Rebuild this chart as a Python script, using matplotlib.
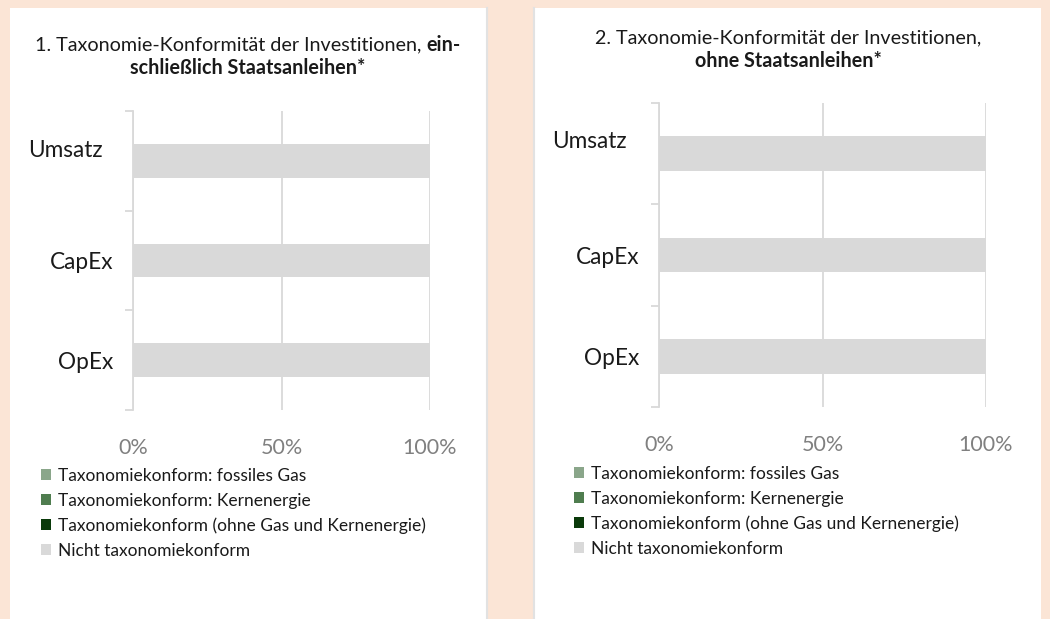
import numpy as np
import matplotlib
matplotlib.use("Agg")
from matplotlib import pyplot as plt
from matplotlib.patches import Rectangle
from matplotlib.lines import Line2D
from matplotlib.transforms import ScaledTranslation

plt.rcParams['font.family'] = ['Lato', 'DejaVu Sans']

# data
categories = ['Umsatz', 'CapEx', 'OpEx']
series_labels = ['Taxonomiekonform: fossiles Gas',
                 'Taxonomiekonform: Kernenergie',
                 'Taxonomiekonform (ohne Gas und Kernenergie)',
                 'Nicht taxonomiekonform']
series_colors = ['#8AA68A', '#4F7D4F', '#0A3A0A', '#D9D9D9']

# chart 1: including sovereign bonds
gas_1 = [0, 0, 0]
nuclear_1 = [0, 0, 0]
aligned_1 = [0, 0, 0]
not_aligned_1 = [100, 100, 100]

# chart 2: excluding sovereign bonds
gas_2 = [0, 0, 0]
nuclear_2 = [0, 0, 0]
aligned_2 = [0, 0, 0]
not_aligned_2 = [100, 100, 100]

xticks = [0, 50, 100]
xtick_labels = ['0%', '50%', '100%']

title_1 = [('1. Taxonomie-Konformität der Investitionen, ', 'normal'), ('ein-', 'bold')]
title_1b = [('schließlich Staatsanleihen*', 'bold')]
title_2 = [('2. Taxonomie-Konformität der Investitionen,', 'normal')]
title_2b = [('ohne Staatsanleihen*', 'bold')]

W, H = 1050, 619
PEACH = '#FBE5D6'
GRID = '#D9D9D9'

fig = plt.figure(figsize=(W / 100, H / 100), dpi=100, facecolor=PEACH)


def px(x, y):
    return x / W, 1 - y / H


# white panels
for x0, x1 in [(10, 486), (534, 1041)]:
    fig.patches.append(Rectangle(px(x0, 619), (x1 - x0) / W, 611 / H,
                                 transform=fig.transFigure, facecolor='white',
                                 edgecolor='none', zorder=-2))
for xl in [486.5, 534]:
    fig.lines.append(Line2D([xl / W, xl / W], [0, 1 - 8 / H], transform=fig.transFigure,
                            color='#E2E2E2', lw=1.5, zorder=-1))

renderer = fig.canvas.get_renderer()


def mixed_title(xc, y, parts, size=14.2):
    texts = []
    for s, w in parts:
        t = fig.text(0, 0, s, fontsize=size, fontweight=w, va='center', ha='left',
                     color='#1A1A1A')
        texts.append(t)
    widths = [t.get_window_extent(renderer).width for t in texts]
    x = xc - sum(widths) / 2
    for t, w in zip(texts, widths):
        t.set_position(px(x, y))
        x += w


mixed_title(248, 45, title_1)
mixed_title(248, 68, title_1b)
mixed_title(788, 38, title_2)
mixed_title(788, 61, title_2b)


def draw_panel(rect, series, umsatz_shift):
    ax = fig.add_axes(rect)
    ax.set_facecolor('none')
    y = np.arange(len(categories))
    left = np.zeros(len(categories))
    handles = []
    for vals, lab, col in zip(series, series_labels, series_colors):
        b = ax.barh(y, vals, left=left, height=0.34, color=col, label=lab, zorder=2)
        handles.append(b)
        left += np.array(vals)
    ax.set_xlim(0, 100)
    ax.set_ylim(len(categories) - 0.5, -0.5)
    for s in ['top', 'right', 'bottom']:
        ax.spines[s].set_visible(False)
    ax.spines['left'].set_color(GRID)
    ax.spines['left'].set_linewidth(1.3)
    ax.set_xticks(xticks)
    ax.set_xticklabels(xtick_labels)
    ax.tick_params(axis='x', length=0, pad=20, labelsize=15.5, labelcolor='#808080')
    ax.xaxis.grid(True, color=GRID, lw=1.3, zorder=1)
    ax.set_axisbelow(True)
    ax.set_yticks(np.arange(len(categories) + 1) - 0.5)
    ax.set_yticklabels([])
    ax.tick_params(axis='y', which='major', length=6, color=GRID, width=1.3)
    ax.set_yticks(y, minor=True)
    ax.set_yticklabels(categories, minor=True)
    ax.tick_params(axis='y', which='minor', length=0, pad=14, labelsize=16.3,
                   labelcolor='#1A1A1A')
    lab0 = ax.yaxis.get_minorticklabels()[0]
    lab0.set_transform(lab0.get_transform() +
                       ScaledTranslation(umsatz_shift[0] / 100, umsatz_shift[1] / 100,
                                         fig.dpi_scale_trans))
    return ax, handles


ax1, h1 = draw_panel([133 / W, 1 - 410 / H, 297 / W, 299 / H],
                     [gas_1, nuclear_1, aligned_1, not_aligned_1], (-11, 12))
ax2, h2 = draw_panel([659 / W, 1 - 407 / H, 327 / W, 304 / H],
                     [gas_2, nuclear_2, aligned_2, not_aligned_2], (-13, 14))

for handles, (lx, ly) in [(h1, (41, 468)), (h2, (574, 466))]:
    fig.legend(handles, series_labels, loc='upper left', bbox_to_anchor=px(lx, ly),
               frameon=False, fontsize=12.5, handlelength=0.6, handleheight=0.6,
               handletextpad=0.36, labelspacing=0.5, borderpad=0, borderaxespad=0,
               labelcolor='#1A1A1A')

fig.savefig('out.png', dpi=100, facecolor=PEACH)
